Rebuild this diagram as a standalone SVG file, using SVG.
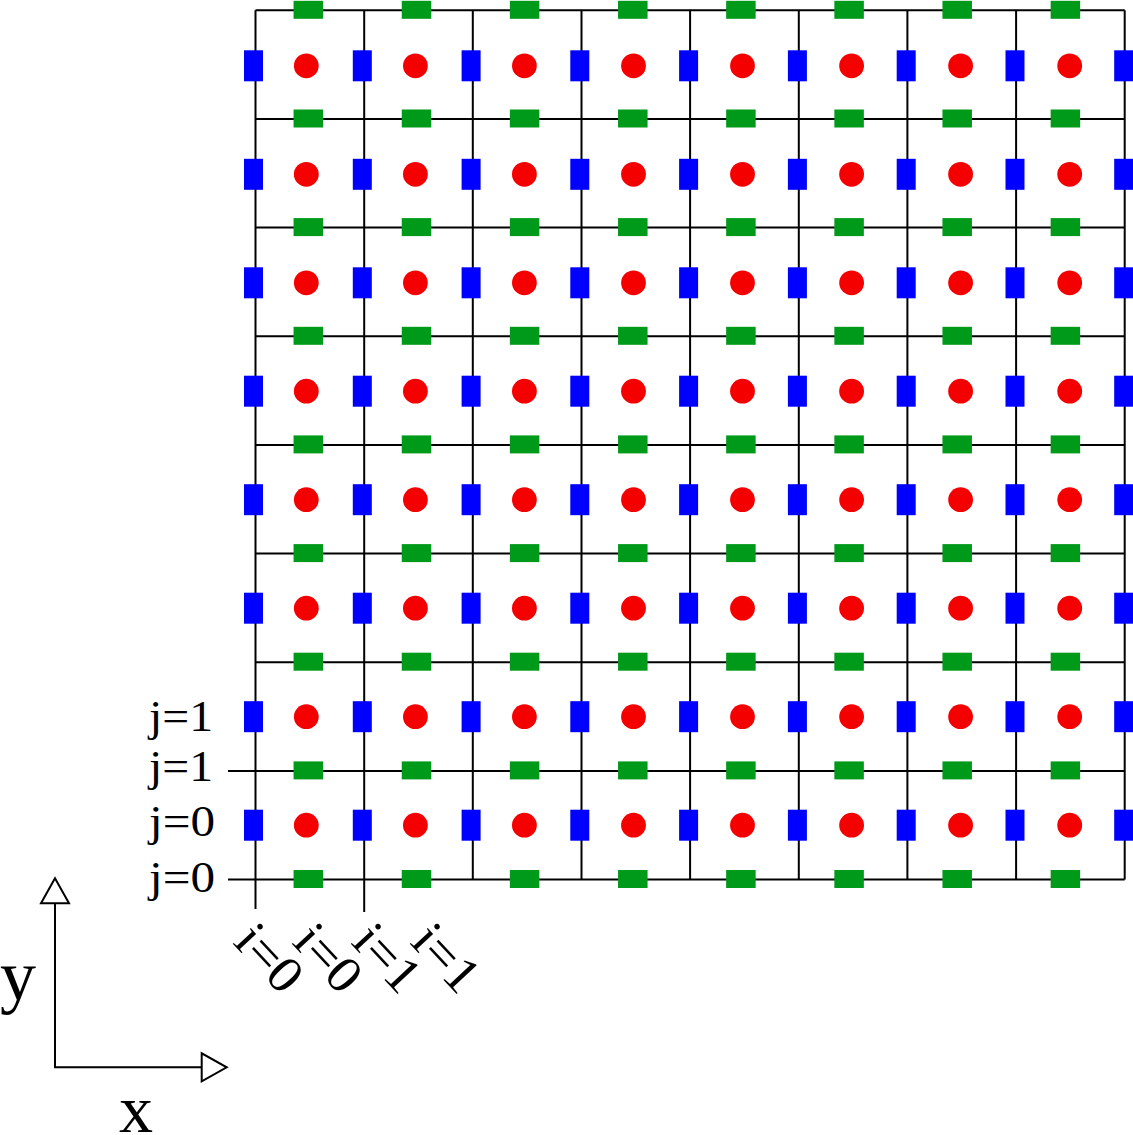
<svg xmlns="http://www.w3.org/2000/svg" xmlns:xlink="http://www.w3.org/1999/xlink" width="1133" height="1135" viewBox="0 0 1133 1135">
<style>
.ln{stroke:#000;stroke-width:2;fill:none}
.ar{stroke:#000;stroke-width:2;fill:#fff}
.t{font-family:"Liberation Serif","Times New Roman",serif;fill:#000}
</style>
<defs>
<rect id="b" x="-9.5" y="-15.5" width="19" height="31" fill="#0000ff"/>
<rect id="g" x="-14.75" y="-9" width="29.5" height="18" fill="#009a1a"/>
<circle id="r" cx="0" cy="0" r="12.4" fill="#f40000"/>
<g id="brrow">
<use href="#b" x="253.5"/><use href="#b" x="362.3"/><use href="#b" x="471.1"/><use href="#b" x="579.8"/><use href="#b" x="688.6"/><use href="#b" x="797.4"/><use href="#b" x="906.2"/><use href="#b" x="1015"/><use href="#b" x="1123.7"/>
<use href="#r" x="306.3"/><use href="#r" x="415.4"/><use href="#r" x="524.4"/><use href="#r" x="633.5"/><use href="#r" x="742.5"/><use href="#r" x="851.6"/><use href="#r" x="960.6"/><use href="#r" x="1069.7"/>
</g>
<g id="grow">
<use href="#g" x="308.3"/><use href="#g" x="416.5"/><use href="#g" x="524.6"/><use href="#g" x="632.8"/><use href="#g" x="740.9"/><use href="#g" x="849.1"/><use href="#g" x="957.2"/><use href="#g" x="1065.4"/>
</g>
</defs>
<rect width="1133" height="1135" fill="#fff"/>
<g id="grid-lines" class="ln">
<path d="M255.5,10.3V909 M364.2,10.3V912 M472.8,10.3V879.5 M581.5,10.3V879.5 M690.1,10.3V879.5 M798.8,10.3V879.5 M907.4,10.3V879.5 M1016.1,10.3V879.5 M1124.7,10.3V879.5"/>
<path d="M255.5,10.3H1124.7 M255.5,119H1124.7 M255.5,227.6H1124.7 M255.5,336.3H1124.7 M255.5,444.9H1124.7 M255.5,553.6H1124.7 M255.5,662.2H1124.7 M228,770.9H1124.7 M228,879.5H1124.7"/>
</g>
<g id="green-markers">
<use href="#grow" y="9.8"/><use href="#grow" y="118.5"/><use href="#grow" y="227.1"/><use href="#grow" y="335.8"/><use href="#grow" y="444.4"/><use href="#grow" y="553.1"/><use href="#grow" y="661.7"/><use href="#grow" y="770.4"/><use href="#grow" y="879"/>
</g>
<g id="blue-red-markers">
<use href="#brrow" y="65.8"/><use href="#brrow" y="174.3"/><use href="#brrow" y="282.8"/><use href="#brrow" y="391.2"/><use href="#brrow" y="499.7"/><use href="#brrow" y="608.2"/><use href="#brrow" y="716.7"/><use href="#brrow" y="825.2"/>
</g>
<g id="j-labels" class="t" font-size="44">
<text x="149" y="731" textLength="64" lengthAdjust="spacingAndGlyphs">j=1</text>
<text x="149" y="781" textLength="64" lengthAdjust="spacingAndGlyphs">j=1</text>
<text x="149" y="836" textLength="66" lengthAdjust="spacingAndGlyphs">j=0</text>
<text x="149" y="892" textLength="66" lengthAdjust="spacingAndGlyphs">j=0</text>
</g>
<g id="i-labels" class="t" font-size="52">
<text transform="translate(232,943) rotate(47)" textLength="73" lengthAdjust="spacingAndGlyphs">i=0</text>
<text transform="translate(291,943) rotate(47)" textLength="73" lengthAdjust="spacingAndGlyphs">i=0</text>
<text transform="translate(350,943) rotate(47)" textLength="73" lengthAdjust="spacingAndGlyphs">i=1</text>
<text transform="translate(409,943) rotate(47)" textLength="73" lengthAdjust="spacingAndGlyphs">i=1</text>
</g>
<g id="axes">
<path class="ln" d="M55,903.3V1067.3H201.7"/>
<polygon class="ar" points="55,878.3 41,903.3 69,903.3"/>
<polygon class="ar" points="201.7,1053.3 201.7,1081.3 226.7,1067.3"/>
<text class="t" x="0" y="1000" font-size="72">y</text>
<text class="t" x="119" y="1132" font-size="68">x</text>
</g>
</svg>
